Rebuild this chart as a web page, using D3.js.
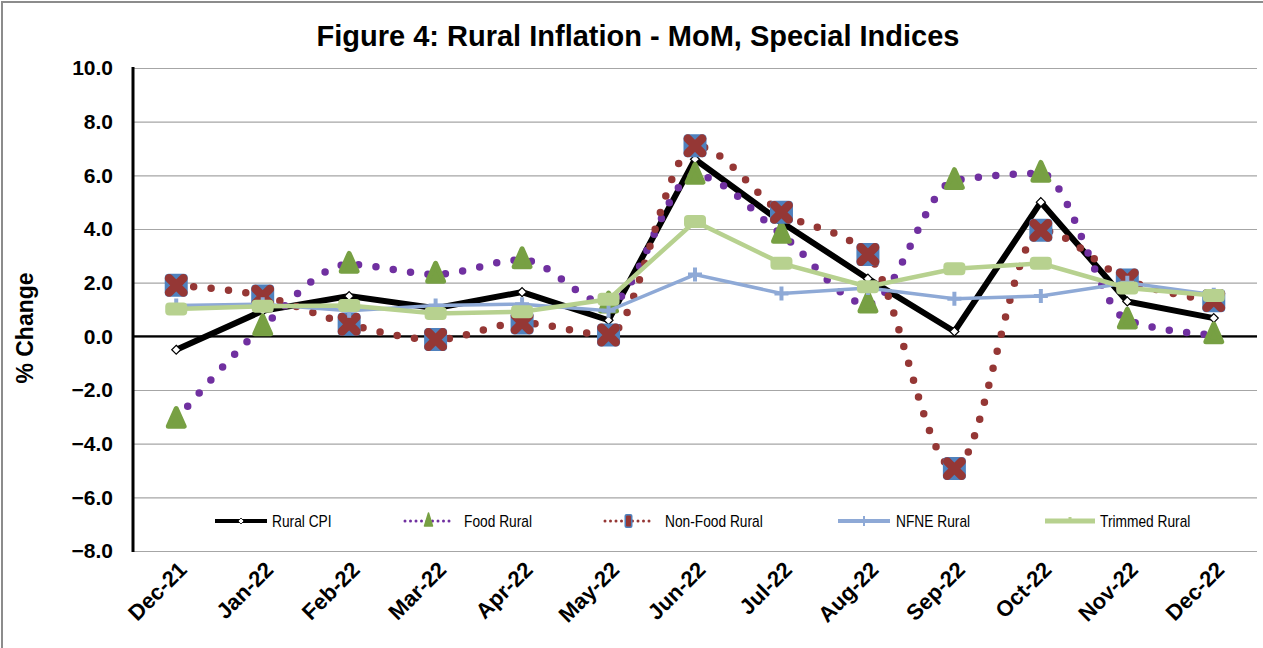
<!DOCTYPE html>
<html><head><meta charset="utf-8">
<script src="https://cdn.jsdelivr.net/npm/d3@7"></script>
<style>
body{margin:0;background:#fff;}
svg{display:block;font-family:Arial,"Liberation Sans",sans-serif;}
</style></head><body>
<svg id="c" width="1263" height="648"></svg>
<script>
const categories = ["Dec-21","Jan-22","Feb-22","Mar-22","Apr-22","May-22","Jun-22","Jul-22","Aug-22","Sep-22","Oct-22","Nov-22","Dec-22"];
const ruralCPI   = [-0.5, 0.95, 1.5, 1.05, 1.65, 0.6, 6.6, 4.25, 2.15, 0.18, 5.0, 1.3, 0.68];
const foodRural  = [-3.1, 0.35, 2.68, 2.31, 2.85, 1.2, 6.0, 3.8, 1.2, 5.8, 6.07, 0.6, 0.05];
const nonFood    = [1.9, 1.5, 0.45, -0.12, 0.5, 0.05, 7.1, 4.62, 3.05, -4.93, 3.95, 2.1, 1.33];
const nfneRural  = [1.15, 1.2, 0.95, 1.15, 1.2, 0.95, 2.3, 1.6, 1.8, 1.4, 1.5, 2.0, 1.55];
const trimmed    = [1.02, 1.12, 1.15, 0.85, 0.92, 1.38, 4.28, 2.72, 1.85, 2.52, 2.72, 1.8, 1.52];
const yTicks     = [-8,-6,-4,-2,0,2,4,6,8,10];
const seriesNames = ["Rural CPI","Food Rural","Non-Food Rural","NFNE Rural","Trimmed Rural"];

const svg = d3.select("#c");
const L = 133, R = 1257, T = 68, B = 551;
const x = d3.scaleBand().domain(categories).range([L, R]);
const xc = d => x(d) + x.bandwidth()/2;
const y = d3.scaleLinear().domain([-8, 10]).range([B, T]);

// outer border
svg.append("rect").attr("x",2).attr("y",2).attr("width",1275).attr("height",660)
  .attr("fill","none").attr("stroke","#8c8c8c").attr("stroke-width",2);

// title
svg.append("text").attr("x",638).attr("y",46).attr("text-anchor","middle")
  .attr("font-size",29).attr("font-weight","bold").text("Figure 4: Rural Inflation - MoM, Special Indices");

// gridlines
const yAxis = d3.axisLeft(y).tickValues(yTicks).tickFormat(d3.format(".1f")).tickSize(-(R-L)).tickPadding(20);
const gy = svg.append("g").attr("transform",`translate(${L},0)`).call(yAxis);
gy.select(".domain").remove();
gy.selectAll(".tick line").attr("stroke","#a6a6a6").attr("stroke-width",1.2);
gy.selectAll(".tick text").attr("font-size",21).attr("font-weight","bold").attr("fill","#000")
  .attr("font-family","Arial,'Liberation Sans',sans-serif");
// zero line
svg.append("line").attr("x1",L).attr("x2",R).attr("y1",y(0)).attr("y2",y(0)).attr("stroke","#000").attr("stroke-width",2.2);
// y axis line
svg.append("line").attr("x1",L).attr("x2",L).attr("y1",T-1).attr("y2",B+1).attr("stroke","#000").attr("stroke-width",3);

// y label
svg.append("text").attr("transform",`translate(33,${328}) rotate(-90)`).attr("text-anchor","middle")
  .attr("font-size",23).attr("font-weight","bold").text("% Change");

// x labels
const xAxis = d3.axisBottom(x).tickSize(0).tickPadding(0);
const gx = svg.append("g").attr("transform",`translate(0,${B})`).call(xAxis);
gx.select(".domain").remove();
gx.selectAll(".tick text").attr("font-size",22).attr("font-weight","bold").attr("fill","#000")
  .attr("font-family","Arial,'Liberation Sans',sans-serif")
  .attr("text-anchor","end").attr("dy",0)
  .attr("transform","translate(12,20) rotate(-45)");

// colors
const cBlack="#000", cPurple="#7030A0", cBrown="#953735", cGreen="#77A043", cBlue="#4F81BD", cNFNE="#8EA9D6", cTrim="#B7D18F";

const lineStraight = d3.line().x((d,i)=>xc(categories[i])).y(d=>y(d));
const lineSmooth = d3.line().x((d,i)=>xc(categories[i])).y(d=>y(d)).curve(d3.curveMonotoneX);

// marker draw functions
function diamond(g, cx, cy, s){
  g.append("path").attr("d",`M${cx},${cy-s}L${cx+s},${cy}L${cx},${cy+s}L${cx-s},${cy}Z`)
   .attr("fill","#fff").attr("stroke","#000").attr("stroke-width",1.2);
}
function triangle(g, cx, cy, s){
  g.append("path").attr("d",`M${cx},${cy-s}L${cx+s*0.72},${cy+s*0.62}L${cx-s*0.72},${cy+s*0.62}Z`)
   .attr("fill",cGreen).attr("stroke",cGreen).attr("stroke-width",5).attr("stroke-linejoin","round");
}
function boxX(g, cx, cy, s){
  g.append("rect").attr("x",cx-s).attr("y",cy-s).attr("width",2*s).attr("height",2*s).attr("rx",4)
   .attr("fill",cBlue);
  const k = s*0.62;
  g.append("path").attr("d",`M${cx-k},${cy-k}L${cx+k},${cy+k}M${cx+k},${cy-k}L${cx-k},${cy+k}`)
   .attr("stroke",cBrown).attr("stroke-width",s*0.75).attr("stroke-linecap","round");
}
function plus(g, cx, cy, s){
  g.append("path").attr("d",`M${cx-s},${cy}L${cx+s},${cy}M${cx},${cy-s}L${cx},${cy+s}`)
   .attr("stroke",cNFNE).attr("stroke-width",4);
}
function rrect(g, cx, cy, w, h){
  g.append("rect").attr("x",cx-w/2).attr("y",cy-h/2).attr("width",w).attr("height",h).attr("rx",4)
   .attr("fill",cTrim);
}

const plot = svg.append("g");

// Rural CPI
plot.append("path").datum(ruralCPI).attr("d",lineStraight).attr("fill","none").attr("stroke",cBlack).attr("stroke-width",6);
ruralCPI.forEach((v,i)=>diamond(plot, xc(categories[i]), y(v), 4.5));

// Food Rural
plot.append("path").datum(foodRural).attr("d",lineSmooth).attr("fill","none").attr("stroke",cPurple)
  .attr("stroke-width",7.5).attr("stroke-linecap","round").attr("stroke-dasharray","0 17.5");
foodRural.forEach((v,i)=>triangle(plot, xc(categories[i]), y(v), 11));

// Non-Food Rural
plot.append("path").datum(nonFood).attr("d",lineSmooth).attr("fill","none").attr("stroke",cBrown)
  .attr("stroke-width",7.5).attr("stroke-linecap","round").attr("stroke-dasharray","0 17.5");
nonFood.forEach((v,i)=>boxX(plot, xc(categories[i]), y(v), 11.5));

// NFNE
plot.append("path").datum(nfneRural).attr("d",lineStraight).attr("fill","none").attr("stroke",cNFNE).attr("stroke-width",3.5);
nfneRural.forEach((v,i)=>plus(plot, xc(categories[i]), y(v), 7));

// Trimmed
plot.append("path").datum(trimmed).attr("d",lineStraight).attr("fill","none").attr("stroke",cTrim).attr("stroke-width",4.5);
trimmed.forEach((v,i)=>rrect(plot, xc(categories[i]), y(v), 22, 13));

// legend
const lg = svg.append("g").attr("font-family","Arial,'Liberation Sans',sans-serif").attr("font-size",16);
const ly = 521;
const legendItems = [
  {name:seriesNames[0], x0:215, x1:267, tx:272},
  {name:seriesNames[1], x0:405, x1:452, tx:464},
  {name:seriesNames[2], x0:605, x1:652, tx:665},
  {name:seriesNames[3], x0:838, x1:890, tx:896},
  {name:seriesNames[4], x0:1045, x1:1095, tx:1100}
];
legendItems.forEach((it,i)=>{
  const mx = (it.x0+it.x1)/2;
  if(i===0){
    lg.append("line").attr("x1",it.x0).attr("x2",it.x1).attr("y1",ly).attr("y2",ly).attr("stroke","#000").attr("stroke-width",4);
    lg.append("path").attr("d",`M${mx},${ly-3}L${mx+3},${ly}L${mx},${ly+3}L${mx-3},${ly}Z`).attr("fill","#fff").attr("stroke","#000").attr("stroke-width",0.8);
  } else if(i===1){
    lg.append("line").attr("x1",it.x0).attr("x2",it.x1).attr("y1",ly).attr("y2",ly).attr("stroke",cPurple).attr("stroke-width",3).attr("stroke-linecap","round").attr("stroke-dasharray","0 5.5");
    lg.append("path").attr("d",`M${mx},${ly-8}L${mx+4},${ly+5}L${mx-4},${ly+5}Z`).attr("fill",cGreen).attr("stroke",cGreen).attr("stroke-width",1.5).attr("stroke-linejoin","round");
  } else if(i===2){
    lg.append("line").attr("x1",it.x0).attr("x2",it.x1).attr("y1",ly).attr("y2",ly).attr("stroke",cBrown).attr("stroke-width",3).attr("stroke-linecap","round").attr("stroke-dasharray","0 5.5");
    lg.append("rect").attr("x",mx-4).attr("y",ly-7).attr("width",8).attr("height",14).attr("rx",2).attr("fill",cBlue);
    lg.append("rect").attr("x",mx-2.5).attr("y",ly-5.5).attr("width",5).attr("height",11).attr("rx",1).attr("fill",cBrown);
  } else if(i===3){
    lg.append("line").attr("x1",it.x0).attr("x2",it.x1).attr("y1",ly).attr("y2",ly).attr("stroke",cNFNE).attr("stroke-width",4);
    lg.append("line").attr("x1",mx).attr("x2",mx).attr("y1",ly-5).attr("y2",ly+5).attr("stroke",cNFNE).attr("stroke-width",2);
  } else {
    lg.append("line").attr("x1",it.x0).attr("x2",it.x1).attr("y1",ly).attr("y2",ly).attr("stroke",cTrim).attr("stroke-width",5);
    lg.append("line").attr("x1",mx).attr("x2",mx).attr("y1",ly-4).attr("y2",ly).attr("stroke",cTrim).attr("stroke-width",3);
  }
  lg.append("text").attr("transform",`translate(${it.tx},${ly+6}) scale(0.86,1)`).attr("fill","#000").text(it.name);
});
</script>
</body></html>
